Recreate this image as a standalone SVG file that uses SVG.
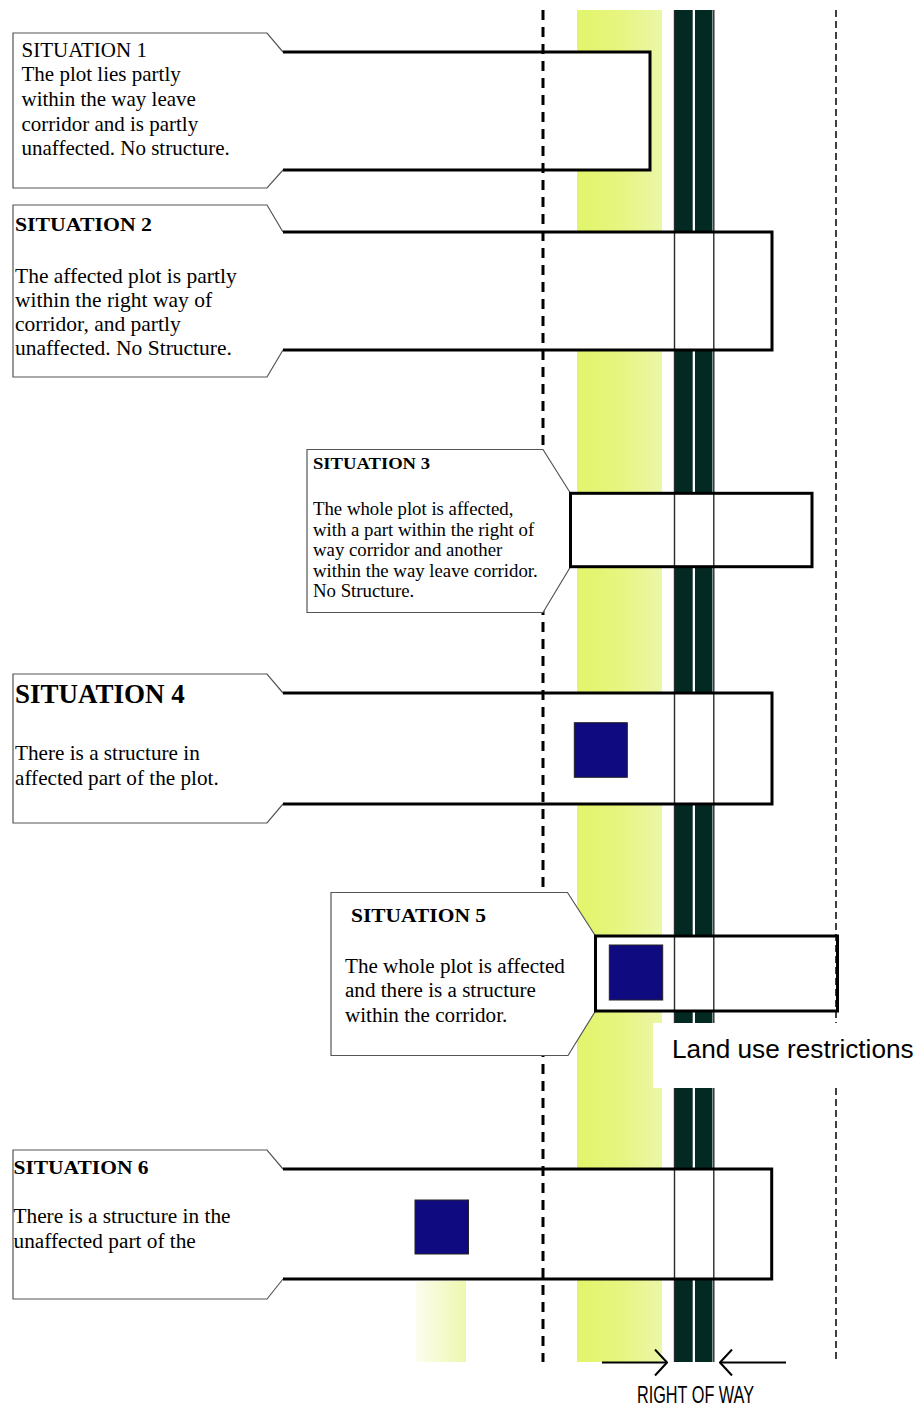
<svg xmlns="http://www.w3.org/2000/svg" width="918" height="1406" viewBox="0 0 918 1406">
<defs>
<linearGradient id="yel" x1="0" y1="0" x2="1" y2="0">
<stop offset="0" stop-color="#e2f56a"/>
<stop offset="0.5" stop-color="#e6f57f"/>
<stop offset="1" stop-color="#ecf6a8"/>
</linearGradient>
<linearGradient id="yel2" x1="0" y1="0" x2="1" y2="0">
<stop offset="0" stop-color="#fcfdee"/>
<stop offset="1" stop-color="#eef7ae"/>
</linearGradient>
<marker id="chev" viewBox="0 0 14 28" refX="13" refY="14" markerWidth="14" markerHeight="28" markerUnits="userSpaceOnUse" orient="auto">
<path d="M1,1 L13,14 L1,27" fill="none" stroke="#000" stroke-width="2"/>
</marker>
</defs>
<style>
.callout{fill:#fff;stroke:#555;stroke-width:1.2}
.plotfill{fill:#fff;stroke:none}
.plot{fill:none;stroke:#000;stroke-width:3;stroke-linejoin:miter}
.serif{font-family:"Liberation Serif","Times New Roman",serif;fill:#000}
.b{font-weight:bold}
.sans{font-family:"Liberation Sans",Arial,sans-serif;fill:#000}
.house{fill:#100a80;stroke:#222;stroke-width:1}
.edge{stroke:#2a2a2a;stroke-width:1.4}
</style>
<rect width="918" height="1406" fill="#fff"/>
<g id="bands">
<rect x="577" y="10" width="85" height="1352" fill="url(#yel)"/>
<rect x="416" y="1281" width="50" height="81" fill="url(#yel2)"/>
<rect x="675" y="10" width="17.7" height="1352" fill="#032a22"/>
<rect x="695" y="10" width="17.5" height="1352" fill="#032a22"/>
</g>
<g id="plot-fills">
<rect class="plotfill" x="283" y="52" width="367" height="118"/>
<rect class="plotfill" x="283" y="232" width="489" height="118"/>
<rect class="plotfill" x="570.5" y="493.3" width="241.5" height="73.4"/>
<rect class="plotfill" x="283" y="693" width="489" height="111"/>
<rect class="plotfill" x="595.5" y="936" width="242" height="75"/>
<rect class="plotfill" x="283" y="1169" width="488.7" height="110"/>
</g>
<g id="boundaries">
<line x1="543" y1="10" x2="543" y2="1362" stroke="#000" stroke-width="3" stroke-dasharray="10 7"/>
<line x1="836" y1="10" x2="836" y2="1360" stroke="#000" stroke-width="1.5" stroke-dasharray="7 4"/>
<line class="edge" x1="674.5" y1="10" x2="674.5" y2="1362"/>
<line class="edge" x1="713.8" y1="10" x2="713.8" y2="1362"/>
</g>
<g id="situation-1">
<path class="callout" d="M283,52 L267,33 H13 V188 H267 L283,170"/>
<path class="plot" d="M283,52 H650 V170 H283"/>
<text class="serif" font-size="21" x="21.5"><tspan x="21.5" y="56.7">SITUATION 1</tspan><tspan x="21.5" y="81.3">The plot lies partly</tspan><tspan x="21.5" y="106">within the way leave</tspan><tspan x="21.5" y="130.7">corridor and is partly</tspan><tspan x="21.5" y="155.3">unaffected. No structure.</tspan></text>
</g>
<g id="situation-2">
<path class="callout" d="M283,232 L267,205 H13 V377 H267 L283,350"/>
<path class="plot" d="M283,232 H772 V350 H283"/>
<text class="serif b" font-size="19" x="15" y="230.7" textLength="137" lengthAdjust="spacingAndGlyphs">SITUATION 2</text>
<text class="serif" font-size="21.5"><tspan x="15" y="283">The affected plot is partly</tspan><tspan x="15" y="307">within the right way of</tspan><tspan x="15" y="331">corridor, and partly</tspan><tspan x="15" y="355">unaffected. No Structure.</tspan></text>
</g>
<g id="situation-3">
<path class="callout" d="M570.5,493.3 L543,449.5 H307 V612.5 H543 L570.5,566.7"/>
<rect class="plot" x="570.5" y="493.3" width="241.5" height="73.4"/>
<text class="serif b" font-size="17" x="313" y="469" textLength="117" lengthAdjust="spacingAndGlyphs">SITUATION 3</text>
<text class="serif" font-size="18.8"><tspan x="313" y="515">The whole plot is affected,</tspan><tspan x="313" y="535.5">with a part within the right of</tspan><tspan x="313" y="556">way corridor and another</tspan><tspan x="313" y="576.5">within the way leave corridor.</tspan><tspan x="313" y="597">No Structure.</tspan></text>
</g>
<g id="situation-4">
<path class="callout" d="M283,693 L267,674 H13 V823 H267 L283,804"/>
<path class="plot" d="M283,693 H772 V804 H283"/>
<rect class="house" x="574.3" y="722.7" width="53" height="54.6"/>
<text class="serif b" font-size="27" x="15" y="702.7">SITUATION 4</text>
<text class="serif" font-size="21.2"><tspan x="15" y="760">There is a structure in</tspan><tspan x="15" y="784.5">affected part of the plot.</tspan></text>
</g>
<g id="situation-5">
<path class="callout" d="M595.5,936 L567.5,892.5 H331 V1055.5 H568 L595.5,1011"/>
<rect class="plot" x="595.5" y="936" width="242" height="75"/>
<rect class="house" x="609.3" y="945" width="53.4" height="55"/>
<text class="serif b" font-size="18" x="351" y="922.3" textLength="135" lengthAdjust="spacingAndGlyphs">SITUATION 5</text>
<text class="serif" font-size="21.1"><tspan x="345" y="973.3">The whole plot is affected</tspan><tspan x="345" y="997.3">and there is a structure</tspan><tspan x="345" y="1021.7">within the corridor.</tspan></text>
</g>
<g id="land-use">
<rect x="653" y="1023" width="265" height="65" fill="#fff"/>
<text class="sans" font-size="26.2" x="672" y="1058.3">Land use restrictions</text>
</g>
<g id="situation-6">
<path class="callout" d="M283,1169 L267,1150 H13 V1299 H267 L283,1279"/>
<path class="plot" d="M283,1169 H771.7 V1279 H283"/>
<rect class="house" x="415" y="1200" width="53.5" height="54"/>
<text class="serif b" font-size="19" x="13.5" y="1174" textLength="135" lengthAdjust="spacingAndGlyphs">SITUATION 6</text>
<text class="serif" font-size="21.3"><tspan x="13.5" y="1223.3">There is a structure in the</tspan><tspan x="13.5" y="1248.3">unaffected part of the</tspan></text>
</g>
<g id="connectors">
<line x1="602" y1="1362.5" x2="667" y2="1362.5" stroke="#000" stroke-width="2" marker-end="url(#chev)"/>
<line x1="786" y1="1362.5" x2="720" y2="1362.5" stroke="#000" stroke-width="2" marker-end="url(#chev)"/>
</g>
<g id="right-of-way-label">
<text class="sans" font-size="24" x="637" y="1403" textLength="117" lengthAdjust="spacingAndGlyphs">RIGHT OF WAY</text>
</g>
</svg>
